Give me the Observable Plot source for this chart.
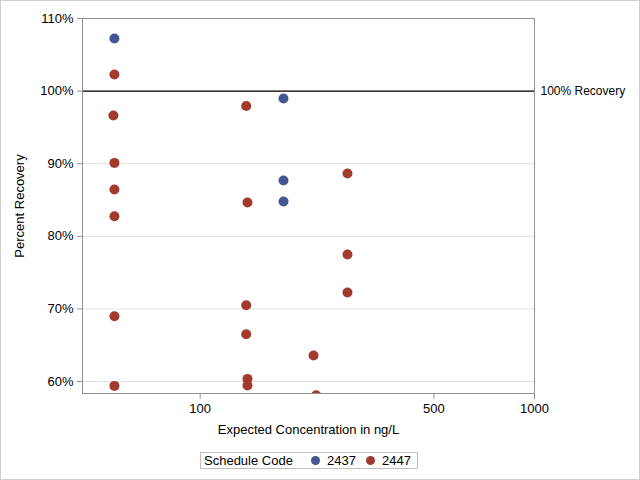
<!DOCTYPE html>
<html>
<head>
<meta charset="utf-8">
<script src="https://cdn.jsdelivr.net/npm/d3@7"></script>
<script src="https://cdn.jsdelivr.net/npm/@observablehq/plot@0.6"></script>
<style>
  html, body { margin: 0; padding: 0; background: #fff; }
  #wrap { position: relative; width: 640px; height: 480px; overflow: hidden; font-family: "Liberation Sans", Arial, sans-serif; }
  #border { position: absolute; left: 0; top: 0; width: 640px; height: 480px; box-sizing: border-box; border: 1px solid #cfcfcf; pointer-events: none; }
  #legend { position: absolute; left: 200px; top: 452px; width: 218px; height: 17px; box-sizing: border-box; border: 1px solid #bfbfbf; font-size: 13px; color: #000; }
  #legend span { position: absolute; top: 0px; white-space: nowrap; }
  #legend i { position: absolute; top: 3px; width: 9px; height: 9px; border-radius: 50%; }
</style>
</head>
<body>
<div id="wrap">
  <div id="chart"></div>
  <div id="legend"></div>
  <div id="border"></div>
</div>
<script>
// Series 2437
const conc2437 = [55.4, 177.5, 177.5, 177.5];
const rec2437  = [107.25, 98.98, 87.69, 84.79];
// Series 2447
const conc2447 = [55.4, 55.0, 55.4, 55.4, 55.4, 55.4, 55.4,
                  137.3, 138.5, 137.3, 137.3, 138.5, 138.5,
                  218.3, 222.3,
                  275.8, 275.8, 275.8];
const rec2447  = [102.29, 96.64, 90.11, 86.45, 82.77, 69.0, 59.4,
                  97.96, 84.66, 70.51, 66.52, 60.36, 59.45,
                  63.58, 58.1,
                  88.65, 77.49, 72.26];
const seriesNames = ["2437", "2447"];
const seriesColors = ["#445694", "#A23A2E"];
const xTicks = [100, 500, 1000];
const yTicks = [60, 70, 80, 90, 100, 110];
const refValue = 100;
const refLabel = "100% Recovery";
const legendTitle = "Schedule Code";

const data = [
  ...conc2437.map((c, i) => ({conc: c, rec: rec2437[i], code: seriesNames[0]})),
  ...conc2447.map((c, i) => ({conc: c, rec: rec2447[i], code: seriesNames[1]}))
];

const chart = Plot.plot({
  width: 640,
  height: 445,
  marginLeft: 82,
  marginRight: 106,
  marginTop: 18,
  marginBottom: 52,
  style: {fontFamily: "'Liberation Sans', Arial, sans-serif", fontSize: "13px", color: "#000", background: "transparent"},
  x: {type: "log", domain: [44.46, 1000]},
  y: {domain: [58.35, 110]},
  color: {domain: seriesNames, range: seriesColors},
  marks: [
    Plot.gridY(yTicks, {stroke: "#e1e1e1", strokeOpacity: 1}),
    Plot.ruleY([refValue], {stroke: "#000", strokeWidth: 1.1}),
    Plot.text([refValue], {y: d => d, frameAnchor: "right", dx: 6, textAnchor: "start", text: () => refLabel, fill: "#000", fontSize: 12}),
    Plot.dot(data, {x: "conc", y: "rec", fill: "code", r: 5, clip: true}),
    Plot.frame({stroke: "#8e9296"}),
    Plot.axisX({ticks: xTicks, tickFormat: d => String(d), tickSize: 6, tickPadding: 4, stroke: "#8e9296",
      label: "Expected Concentration in ng/L", labelAnchor: "center", labelArrow: "none", labelOffset: 40}),
    Plot.axisY({ticks: yTicks, tickFormat: d => d + "%", tickSize: 5, tickPadding: 4, stroke: "#8e9296",
      label: "Percent Recovery", labelAnchor: "center", labelArrow: "none", labelOffset: 68})
  ]
});
document.getElementById("chart").appendChild(chart);

// Legend
const lg = document.getElementById("legend");
const t = document.createElement("span");
t.textContent = legendTitle; t.style.left = "3px"; lg.appendChild(t);
const swX = [115, 170];
seriesNames.forEach((n, i) => {
  const dot = document.createElement("i");
  dot.style.left = (swX[i] - 5) + "px";
  dot.style.background = seriesColors[i];
  lg.appendChild(dot);
  const s = document.createElement("span");
  s.textContent = n; s.style.left = (swX[i] + 11) + "px";
  lg.appendChild(s);
});
</script>
</body>
</html>
